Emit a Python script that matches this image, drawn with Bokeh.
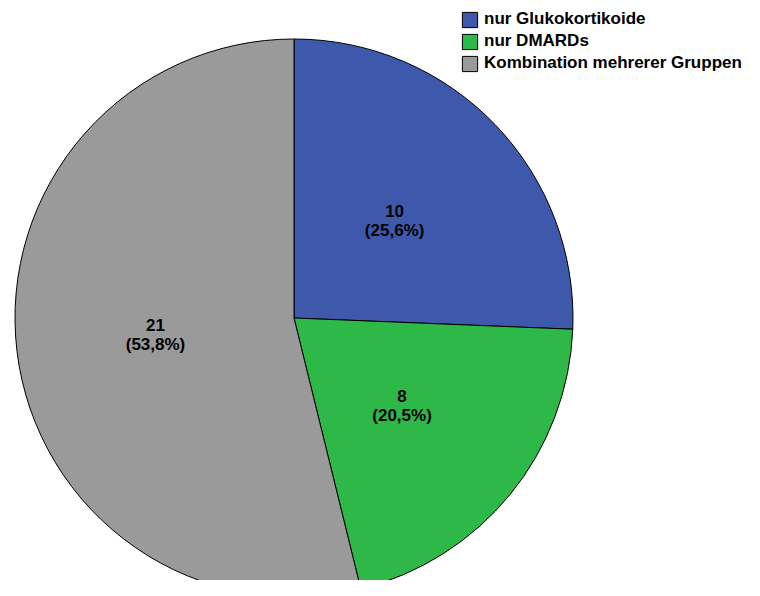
import math
from bokeh.plotting import figure
from bokeh.models import ColumnDataSource, Range1d
from bokeh.core.properties import value
from bokeh.embed import file_html
from bokeh.resources import INLINE

# ---- data ----
categories = ["nur Glukokortikoide", "nur DMARDs", "Kombination mehrerer Gruppen"]
counts = [10, 8, 21]
colors = ["#3E58AC", "#2EB848", "#9A9A9A"]

total = sum(counts)
cum = 0
starts, ends, labels, lx, ly = [], [], [], [], []
cx, cy, r = 293.5, 596 - 317.5, 279.0
for c in counts:
    a0 = math.pi / 2 - 2 * math.pi * cum / total
    cum += c
    a1 = math.pi / 2 - 2 * math.pi * cum / total
    starts.append(a0)
    ends.append(a1)
    mid = (a0 + a1) / 2
    lx.append(cx + 0.5 * r * math.cos(mid))
    ly.append(cy + 0.5 * r * math.sin(mid))
    pct = f"{c / total * 100:.1f}".replace(".", ",")
    labels.append(f"{c}\n({pct}%)")

src = ColumnDataSource(dict(cat=categories, start=starts, end=ends, color=colors,
                            lx=lx, ly=ly, label=labels))

W, H = 744, 580
p = figure(width=W, height=H, output_backend="svg", toolbar_location=None,
           x_range=Range1d(0, W), y_range=Range1d(596 - H, 596),
           min_border=0, outline_line_color=None)
p.axis.visible = False
p.grid.visible = False
p.background_fill_color = "white"

p.wedge(x=cx, y=cy, radius=r, start_angle="start", end_angle="end",
        direction="clock", fill_color="color", line_color="black",
        line_width=1, legend_field="cat", source=src)

p.text(x="lx", y="ly", text="label", source=src, text_align="center",
       text_baseline="middle", text_font=value("Liberation Sans"),
       text_font_style="bold", text_font_size="17px", text_color="black",
       text_line_height=1.0)

lg = p.legend[0]
lg.location = (460, 507)
lg.padding = 0
lg.margin = 0
lg.spacing = 2
lg.glyph_width = 19
lg.glyph_height = 19
lg.label_height = 19
lg.label_standoff = 5
lg.border_line_color = None
lg.background_fill_alpha = 0
lg.label_text_font = "Liberation Sans"
lg.label_text_font_style = "bold"
lg.label_text_font_size = "17px"
lg.label_text_color = "black"

open("out.html", "w").write(file_html(p, INLINE))
